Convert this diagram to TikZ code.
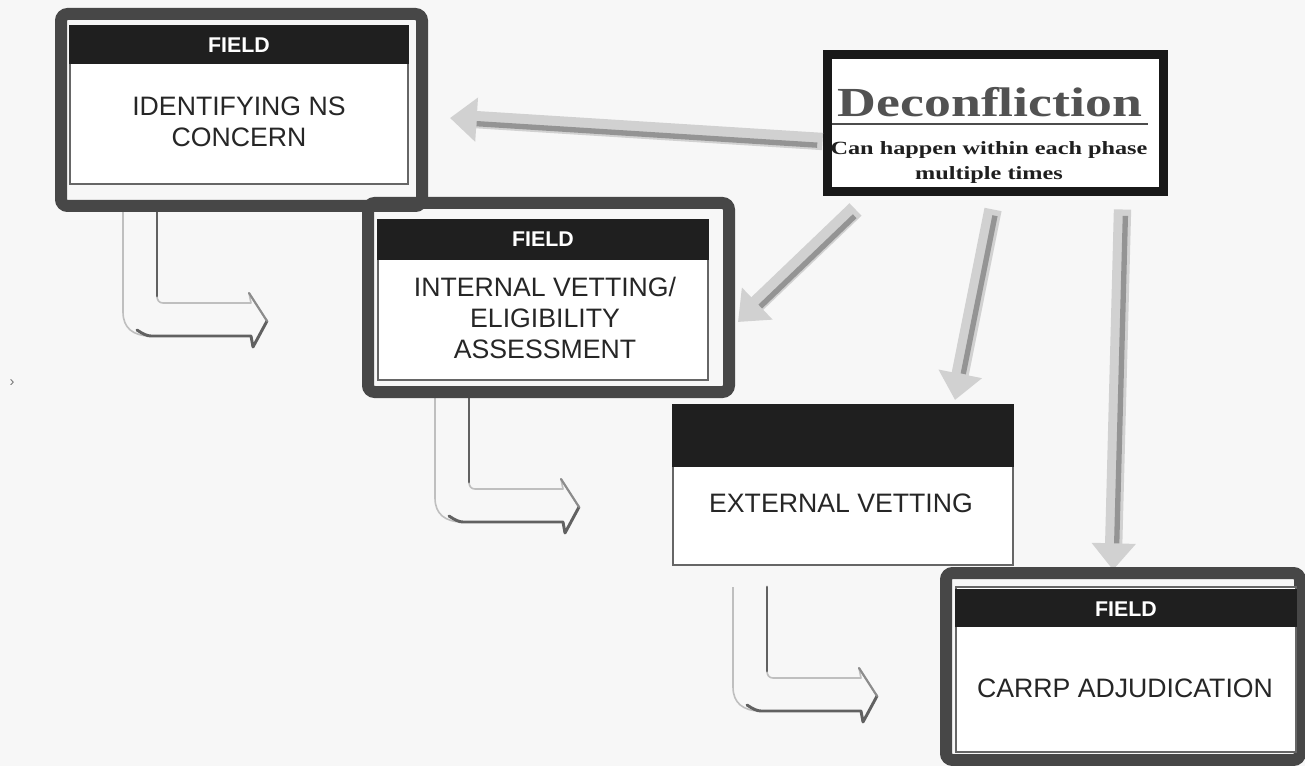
\documentclass[tikz,border=0pt]{standalone}
\usepackage{fontspec}
\setmainfont{Liberation Sans}
\newfontfamily\serifbold{Liberation Serif}
\usetikzlibrary{arrows.meta,calc}

\begin{document}
\begin{tikzpicture}[x=0.75pt,y=-0.75pt,
  frame/.style={draw=black!72, line width=9pt, rounded corners=5pt},
  card/.style={draw=black!60, line width=1.1pt, fill=white, inner sep=0pt},
  band/.style={fill=black!88},
  tag/.style={text=white, font=\bfseries\fontsize{16}{18}\selectfont},
  phase/.style={text=black!85, align=center, font=\fontsize{20}{23}\selectfont},
  feed/.style={draw=black!18, line width=13pt, -{Triangle[width=32pt,length=20pt]}},
  feedcore/.style={draw=black!42, line width=4pt, shorten >=20pt, shorten <=4pt},
  pics/turnarrow/.style={code={
    % faint outline of the hollow bent arrow
    \draw[black!25, line width=1.2pt, line join=round]
      (0,0) -- (0,100) .. controls (0,116) and (10,124) .. (28,124)
      -- (128,124) -- (130,135) -- (144,109) -- (126,81) -- (128,91)
      -- (40,91) .. controls (36,91) and (34,88) .. (34,84) -- (34,0);
    % darker shaded edges
    \draw[black!62, line width=2.2pt, line cap=round] (34,0) -- (34,84);
    \draw[black!62, line width=2.2pt, line cap=round, line join=round]
      (14,118) .. controls (20,122) and (24,124) .. (28,124)
      -- (128,124) -- (130,135) -- (144,109);
    \draw[black!45, line width=1.6pt, line cap=round] (144,109) -- (126,81);
  }}
]
\useasboundingbox (0,0) rectangle (1305,766);
\fill[black!3] (0,0) rectangle (1305,766);

\node[text=black!55, font=\fontsize{11}{12}\selectfont] (mk) at (12,383) {›};

% Deconfliction box (placed first so arrows can start from it)
\node[draw=black!90, line width=6.75pt, minimum width=252pt, minimum height=102.75pt,
      fill=white, inner sep=0pt] (dc) at (995,123.5) {};

% arrow targets
\coordinate (g1) at (450,118);
\coordinate (g2) at (738,322);
\coordinate (g3) at (955,400);
\coordinate (g4) at (1113,570);

% gray arrows from the deconfliction box, with a darker shaded side
\draw[feed] ($(dc.west)+(0,18)$) -- (g1);
\draw[feedcore] ($(dc.west)+(0,22)$) -- ($(g1)+(0,4)$);
\draw[feed] ($(dc.south west)+(33,13)$) -- (g2);
\draw[feedcore] ($(dc.south west)+(36,16)$) -- ($(g2)+(3,3)$);
\draw[feed] ($(dc.south)+(-2,13)$) -- (g3);
\draw[feedcore] ($(dc.south)+(1,14)$) -- ($(g3)+(3,0)$);
\draw[feed] ($(dc.south east)+(-45,13)$) -- (g4);
\draw[feedcore] ($(dc.south east)+(-42,14)$) -- ($(g4)+(3,0)$);

% bent step arrows
\pic at (123,212) {turnarrow};
\pic at (435,398) {turnarrow};
\pic at (733,587) {turnarrow};

% phase 1
\draw[frame] (61,14) rectangle (422,206);
\node[card, minimum width=253.5pt, minimum height=118.5pt] (b1) at (239,105) {};
\fill[band] (b1.north west) rectangle ($(b1.north east)+(0,39)$);
\node[tag] (f1) at ($(b1.north)+(0,20)$) {FIELD};
\node[phase] (p1) at (239,122) {IDENTIFYING NS\\CONCERN};

% phase 2
\draw[frame] (368,203) rectangle (729,392);
\node[card, minimum width=247.5pt, minimum height=120pt] (b2) at (543,300) {};
\fill[band] (b2.north west) rectangle ($(b2.north east)+(0,41)$);
\node[tag] (f2) at ($(b2.north)+(0,20)$) {FIELD};
\node[phase] (p2) at (545,318) {INTERNAL VETTING/\\ELIGIBILITY\\ASSESSMENT};

% phase 3
\node[card, minimum width=255pt, minimum height=120pt] (b3) at (843,485) {};
\fill[band] (b3.north west) rectangle ($(b3.north east)+(0,63)$);
\node[phase] (p3) at (841,503) {EXTERNAL VETTING};

% phase 4
\draw[frame] (946,573) rectangle (1300,760);
\node[card, minimum width=255pt, minimum height=123.75pt] (b4) at (1126,669.5) {};
\fill[band] ($(b4.north west)+(0,3)$) rectangle ($(b4.north east)+(0,41)$);
\node[tag] (f4) at (1126,609) {FIELD};
\node[phase] (p4) at (1125,688) {CARRP ADJUDICATION};

% deconfliction texts
\node[text=black!68, inner sep=0pt] (dct) at (990,102)
  {\scalebox{1.3}[1]{\serifbold\bfseries\fontsize{31}{34}\selectfont Deconfliction}};
\draw[black!70, line width=2.2pt] ($(dc.west)+(9,0.5)$) -- ($(dc.east)+(-20,0.5)$);
\node[text=black!88, inner sep=0pt] (dcs1) at (989,150)
  {\scalebox{1.3}[1]{\serifbold\bfseries\fontsize{14}{16}\selectfont Can happen within each phase}};
\node[text=black!88, inner sep=0pt] (dcs2) at (989,175)
  {\scalebox{1.3}[1]{\serifbold\bfseries\fontsize{14}{16}\selectfont multiple times}};
\end{tikzpicture}
\end{document}
